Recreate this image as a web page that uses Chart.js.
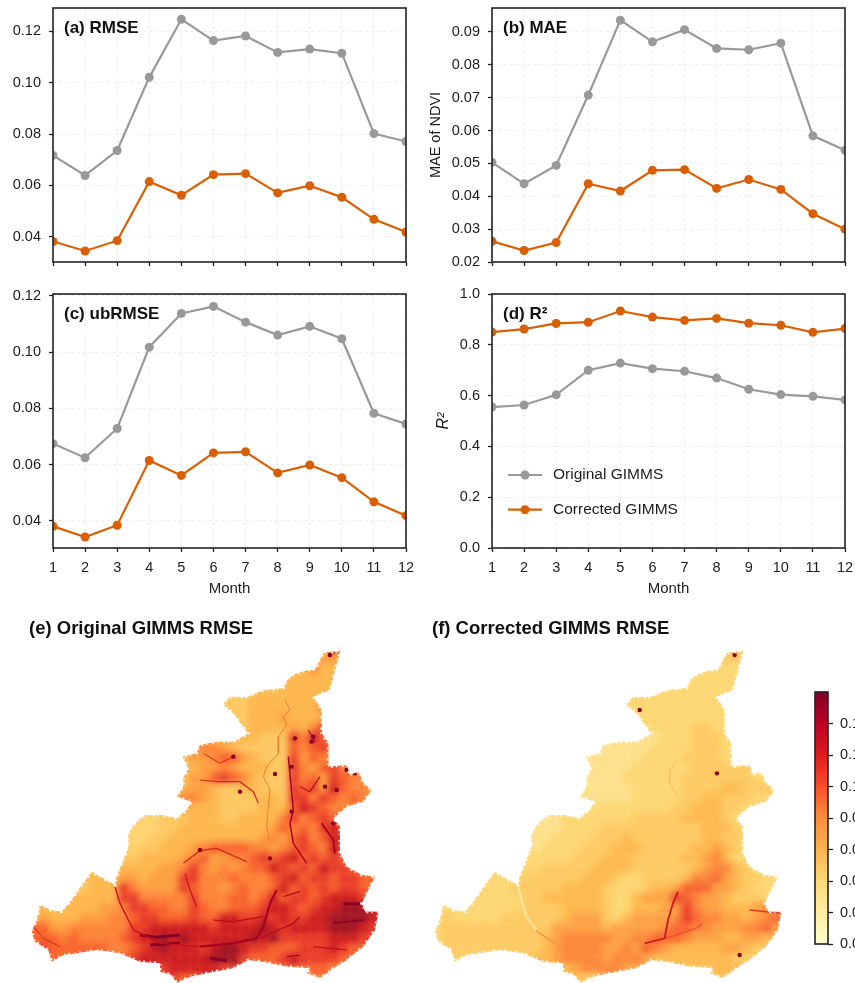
<!DOCTYPE html>
<html><head><meta charset="utf-8">
<style>
html,body{margin:0;padding:0;width:855px;height:983px;overflow:hidden;background:#fff}
canvas{position:absolute;display:block}
</style>
<script src="https://cdn.jsdelivr.net/npm/chart.js@4"></script>
</head><body>
<canvas id="pa" width="430" height="290" style="left:0;top:0;width:430px;height:290px"></canvas>
<canvas id="pb" width="428" height="290" style="left:427px;top:0;width:428px;height:290px"></canvas>
<canvas id="pc" width="430" height="320" style="left:0;top:286px;width:430px;height:320px"></canvas>
<canvas id="pd" width="428" height="320" style="left:427px;top:286px;width:428px;height:320px"></canvas>
<canvas id="me" width="410" height="373" style="left:0;top:610px;width:410px;height:373px"></canvas>
<canvas id="mf" width="410" height="373" style="left:403px;top:610px;width:410px;height:373px"></canvas>
<canvas id="cb" width="110" height="280" style="left:790px;top:680px;width:110px;height:280px"></canvas>
<script>
const months = ['1','2','3','4','5','6','7','8','9','10','11','12'];
const rmseOriginal = [.0717,.0639,.0736,.1021,.1247,.1164,.1182,.1118,.1131,.1115,.0802,.0771];
const rmseCorrected = [.0382,.0345,.0385,.0615,.0562,.0642,.0646,.0571,.0599,.0554,.0468,.0419];
const maeOriginal = [.0503,.0438,.0494,.0708,.0936,.0870,.0907,.0850,.0846,.0866,.0584,.0540];
const maeCorrected = [.0263,.0235,.0259,.0438,.0416,.0479,.0481,.0424,.0451,.0421,.0347,.0300];
const ubrmseOriginal = [.0675,.0625,.0729,.1018,.1138,.1163,.1107,.1061,.1092,.1048,.0783,.0745];
const ubrmseCorrected = [.0381,.0343,.0385,.0615,.0562,.0642,.0646,.0571,.0599,.0554,.0468,.0419];
const r2Original = [.555,.563,.603,.700,.728,.706,.696,.669,.625,.604,.597,.583];
const r2Corrected = [.850,.862,.884,.889,.933,.909,.896,.904,.885,.877,.849,.864];
const ticksA = [.04,.06,.08,.10,.12];
const ticksB = [.02,.03,.04,.05,.06,.07,.08,.09];
const ticksC = [.04,.06,.08,.10,.12];
const ticksD = [0,.2,.4,.6,.8,1];
const ticksBar = [0,.02,.04,.06,.08,.10,.12,.14];
const seriesNames = ['Original GIMMS','Corrected GIMMS'];
const panelTitles = ['(a) RMSE','(b) MAE','(c) ubRMSE','(d) R²'];
const mapTitles = ['(e) Original GIMMS RMSE','(f) Corrected GIMMS RMSE'];
const GRAY='#999999', ORANGE='#d95f02', INK='#1c1c1c';
const FF='"Liberation Sans", Arial, sans-serif';

/* study-area outline (map units) */
const outlineX = [1015,1022,990,970,945,925,890,865,850,790,740,690,668,700,725,745,720,700,650,600,590,548,565,550,550,530,575,560,530,485,435,405,385,385,370,350,345,300,275,245,215,185,150,120,110,95,105,145,155,190,230,290,360,420,480,480,515,530,570,640,700,745,790,860,930,920,960,1000,1040,1090,1125,1135,1095,1085,1105,1125,1085,1040,1020,1020,1000,1040,1090,1115,1090,1075,1050,1040,985,985,965,965,940,990,1000,1020,1015];
const outlineY = [105,125,125,130,180,180,190,205,235,240,262,260,285,310,345,370,385,395,395,405,430,440,475,505,530,560,575,600,625,615,615,640,670,710,750,800,825,800,785,825,870,905,900,882,930,965,995,1020,1055,1035,1030,1020,1030,1055,1060,1085,1095,1118,1100,1085,1075,1050,1055,1070,1075,1090,1105,1075,1050,1010,960,905,905,880,840,800,795,770,730,650,625,590,575,540,520,485,495,465,470,400,370,300,260,240,200,125,105];

/* RMSE class per 30-unit cell, one string per row, '.' = outside */
const rasterE = [
".............................394...",
"............................3443...",
"...........................35333...",
".........................333333....",
"........................233333.....",
"...................22233333334.....",
"....................2233333335.....",
".....................233343334.....",
".....................233334357.....",
".................3333332227586.....",
"...............4555432222265675....",
"...............34456643222746545...",
"...............3344543332275467576.",
"...............34467653222756476555",
"...............34432233222767486554",
"..............45543222233277576565.",
"...............43332222333687655...",
"...........11222333223333575676....",
"..........1112233333333346565786...",
"..........1122333333333454675687...",
"..........1223334566665545676587...",
".........22333345644556767867676...",
"......3.33333445754545668767687766.",
".....233344344477555655567867767766",
"....223337544447655456556867676776.",
"...2333337755555755566568677678887.",
".3333334457"+"7665576556"+"66788767889998",
".4333444556"+"7766676688"+"77878778899998",
"6644555555"+"7788888878"+"888987888899987",
"6665655556"+"7889898888"+"88989777778887"+".",
".7666666556"+"7898887899"+"877666777876"+"..",
"..6......"+"67888888899976667877776"+"...",
".............7888887........665....",
"..............766.................."
];
const rasterF = [
".............................141...",
"............................1221...",
"...........................11111...",
".........................111111....",
"........................111111.....",
"...................11111111111.....",
"....................1111111111.....",
".....................111111111.....",
".....................111112211.....",
".................0000001112221.....",
"...............0000000111122211....",
"...............00000011112222111...",
"...............0000011111122222211.",
"...............00001111112222222111",
"...............00000111112222332221",
"..............10000011111223322211.",
"...............11111111122333221...",
"...........00111111122222333321....",
"..........0001111222222222233321...",
"..........0011112223222222233221...",
"..........0111122233322222334321...",
".........11111222333222223345311...",
"......1.11122222333322222234553211.",
"....."+"1111222222"+"3332112222"+"3556432211",
"...."+"1111222223"+"3332111233"+"4666443211"+".",
"..."+"1111112233"+"3333211344"+"47654432221"+".",
"."+"1111111122"+"2233332113"+"33447544333454",
"."+"2111112222"+"2234442134"+"44457655443456",
"1222222222"+"2244444344"+"444566554445564",
"1222222222"+"2345555544"+"55666544433443"+".",
"."+"2222222222"+"3455554454"+"654333334432"+"..",
"..2......"+"23345555455543333333322"+"...",
".............3455554........333....",
"..............322.................."
];
const mapClasses = ['#fee391','#fed976','#fecb66','#feb850','#fd9f44','#fd823a','#f95d2d','#e8342a','#cc1420','#9c0a24'];

const streaksE = [
 {c:'#f07a34',w:1,x:[855,870,850,860,835,835,800,790,810,805,800,810],y:[270,300,320,345,380,430,470,500,540,590,650,700]},
 {c:'#d9261f',w:1.2,x:[600,650,720,760,775],y:[510,515,515,545,580]},
 {c:'#a8001f',w:2.2,x:[830,810,790,770,700,600],y:[840,880,950,985,1000,1010]},
 {c:'#c5101f',w:1.4,x:[600,480,400,360,345],y:[1010,1000,960,880,830]},
 {c:'#b50a20',w:1.4,x:[780,880,900],y:[985,940,920]},
 {c:'#870026',w:3,x:[1030,1085],y:[882,882]},
 {c:'#870026',w:3,x:[420,470,540],y:[975,982,975]},
 {c:'#870026',w:3,x:[450,540],y:[1005,1000]},
 {c:'#870026',w:3,x:[630,680],y:[1045,1052]},
 {c:'#a8001f',w:1.5,x:[865,880,870,880,920],y:[440,600,640,700,760]},
 {c:'#a8001f',w:1.8,x:[965,1000,1005],y:[640,690,730]},
 {c:'#d9261f',w:1.2,x:[550,600,650,740],y:[760,722,715,755]},
 {c:'#c5101f',w:1.2,x:[555,570,590],y:[790,840,890]},
 {c:'#b50a20',w:1.2,x:[900,930,960],y:[530,545,500]},
 {c:'#b50a20',w:1.2,x:[925,945],y:[360,395]},
 {c:'#b50a20',w:1.2,x:[850,900],y:[860,845]},
 {c:'#b50a20',w:1.2,x:[640,700,790],y:[930,935,920]},
 {c:'#870026',w:1.5,x:[1000,1090],y:[940,930]},
 {c:'#a8001f',w:1.2,x:[860,900],y:[1040,1035]},
 {c:'#b50a20',w:1.2,x:[940,1040],y:[1010,1020]},
 {c:'#d9261f',w:1,x:[100,130,180],y:[950,985,1010]},
 {c:'#d9261f',w:1,x:[610,660,700],y:[430,460,440]}
];
const streaksF = [
 {c:'#d3151f',w:1.8,x:[825,810,795,785,725],y:[845,880,930,985,1000]},
 {c:'#ef4b2b',w:1.2,x:[790,880,900],y:[985,955,940]},
 {c:'#e8362a',w:1.5,x:[1040,1090,1140],y:[900,905,910]},
 {c:'#fd8d3c',w:1.2,x:[905,930,950],y:[800,770,730]},
 {c:'#fd8d3c',w:1.2,x:[400,470,600],y:[962,1010,1050]},
 {c:'#fee8a0',w:2,x:[345,370,400],y:[830,920,960]},
 {c:'#fdbc58',w:1,x:[825,800,800,825],y:[450,480,520,560]}
];
const spotsX = [990,825,875,940,885,1000,1040,1065,935,975,1010,875,810,720,700,600];
const spotsY = [135,492,605,380,385,640,480,490,395,530,540,470,745,545,440,720];
const spotsFX = [942,1010,995,710];
const spotsFY = [490,1035,135,300];
const colorbarColors = ['#ffffcc','#ffeda0','#fed976','#feb24c','#fd8d3c','#fc4e2a','#e31a1c','#bd0026','#800026'];

Chart.defaults.font.family = FF;
Chart.defaults.color = INK;
Chart.defaults.animation = false;
Chart.defaults.responsive = false;

const framePlugin = {
  id:'frame',
  afterDatasetsDraw(ch,a,o){
    if(!o.on) return;
    const {left,top,width,height} = ch.chartArea, x = ch.ctx;
    x.save(); x.strokeStyle='#222'; x.lineWidth=1.6; x.strokeRect(left,top,width,height); x.restore();
  }
};
const tagPlugin = {
  id:'tag',
  afterDraw(ch,a,o){
    const x = ch.ctx, area = ch.chartArea;
    if(o.text){
      x.save(); x.font='bold 17px '+FF; x.fillStyle='#111'; x.textBaseline='middle';
      x.fillText(o.text, area.left+11, area.top+20); x.restore();
    }
    if(o.legend){
      x.save();
      ch.data.datasets.forEach((d,i)=>{
        const yy = area.top + 181 + i*34.7, x0 = area.left+16;
        x.strokeStyle=d.borderColor; x.lineWidth=2.2;
        x.beginPath(); x.moveTo(x0,yy); x.lineTo(x0+34,yy); x.stroke();
        x.fillStyle=d.borderColor; x.beginPath(); x.arc(x0+17,yy,4.5,0,7); x.fill();
        x.font='15.5px '+FF; x.fillStyle=INK; x.textBaseline='middle';
        x.fillText(d.label, x0+45, yy);
      });
      x.restore();
    }
  }
};
function tracePath(ch){
  const x = ch.ctx, sx = ch.scales.x, sy = ch.scales.y;
  x.beginPath();
  outlineX.forEach((v,i)=>{
    const px = sx.getPixelForValue(v), py = sy.getPixelForValue(outlineY[i]);
    i ? x.lineTo(px,py) : x.moveTo(px,py);
  });
  x.closePath();
}
const mapPlugin = {
  id:'mapClip',
  beforeDatasetsDraw(ch,a,o){
    if(!o.on) return;
    ch.ctx.save(); tracePath(ch); ch.ctx.clip();
  },
  afterDatasetsDraw(ch,a,o){ if(o.on) ch.ctx.restore(); },
  beforeDatasetDraw(ch,a,o){
    if(o.on && ch.data.datasets[a.index].soft) ch.ctx.filter='blur(3.6px)';
  },
  afterDatasetDraw(ch,a,o){
    if(o.on && ch.data.datasets[a.index].soft) ch.ctx.filter='none';
  }
};
Chart.register(framePlugin, tagPlugin, mapPlugin);

function line(label,data,color,order){
  return {label,data,borderColor:color,backgroundColor:color,borderWidth:2.2,pointRadius:4.5,pointBorderWidth:0,
    pointBackgroundColor:color,tension:0,clip:0,order};
}
function panel(id,cfg){
  new Chart(document.getElementById(id),{
    type:'line',
    data:{labels:months,datasets:[line(seriesNames[0],cfg.a,GRAY,1),line(seriesNames[1],cfg.b,ORANGE,0)]},
    options:{
      layout:{autoPadding:false,padding:{top:8,right:cfg.pr,bottom:cfg.pb||0,left:0}},
      plugins:{legend:{display:false},tooltip:{enabled:false},frame:{on:true},tag:{text:cfg.tag,legend:cfg.legend},mapClip:{on:false}},
      scales:{
        x:{offset:false,
           grid:{color:'#e9e9e9',lineWidth:.8,tickColor:'#222',tickWidth:1.3,tickLength:4,tickBorderDash:[]},
           border:{display:false,dash:[3,3]},
           ticks:{autoSkip:false,maxRotation:0,padding:7,font:{size:14.5},callback(v){return cfg.month?months[v]:'';}},
           title:{display:!!cfg.month,text:'Month',font:{size:15},padding:{top:0,bottom:0}},
           afterFit(s){s.height=cfg.xh;s.paddingLeft=0;s.paddingRight=0;}},
        y:{min:cfg.min,max:cfg.max,
           grid:{color:'#e9e9e9',lineWidth:.8,tickColor:'#222',tickWidth:1.3,tickLength:4,tickBorderDash:[]},
           border:{display:false,dash:[3,3]},
           ticks:{padding:8,font:{size:14.5},callback(v){return v.toFixed(cfg.dec);}},
           afterBuildTicks(s){s.ticks=cfg.ticks.map(v=>({value:v}));},
           title:{display:!!cfg.yt,text:cfg.yt||'',font:{size:cfg.yt==='R²'?16:14.5,style:cfg.yt==='R²'?'italic':'normal'},padding:{top:cfg.ytp||0,bottom:0}},
           afterFit(s){s.width=cfg.yw;s.paddingTop=0;s.paddingBottom=0;}}
      }
    }
  });
}
panel('pa',{a:rmseOriginal,b:rmseCorrected,ticks:ticksA,min:.0302,max:.1291,dec:2,tag:panelTitles[0],pr:24,xh:28,yw:53});
panel('pb',{a:maeOriginal,b:maeCorrected,ticks:ticksB,min:.02,max:.0973,dec:2,tag:panelTitles[1],pr:10,xh:28,yw:65,yt:'MAE of NDVI'});
panel('pc',{a:ubrmseOriginal,b:ubrmseCorrected,ticks:ticksC,min:.0304,max:.1207,dec:2,tag:panelTitles[2],pr:24,xh:50,pb:8,yw:53,month:true});
panel('pd',{a:r2Original,b:r2Corrected,ticks:ticksD,min:0,max:1,dec:1,tag:panelTitles[3],pr:10,xh:50,pb:8,yw:65,month:true,yt:'R²',ytp:7,legend:true});

function mapChart(id,title,raster,streaks,sx,sy,base){
  const pts=[], cols=[];
  raster.forEach((row,r)=>{
    for(let c=0;c<row.length;c++){
      const k=row[c];
      if(k>='0'&&k<='9'){ pts.push({x:90+30*c+15,y:105+30*r+15}); cols.push(mapClasses[+k]); }
    }
  });
  const outline = outlineX.map((v,i)=>({x:v,y:outlineY[i]}));
  const ds=[];
  ds.push({data:outline,showLine:true,fill:false,borderWidth:3,borderDash:[1,3,2,5],borderColor:'#ffffff',pointRadius:0,tension:0,order:-1});
  streaks.forEach((s,i)=>ds.push({data:s.x.map((v,j)=>({x:v,y:s.y[j]})),showLine:true,borderColor:s.c,borderWidth:s.w,
      pointRadius:0,tension:0,fill:false,order:1+i}));
  ds.push({data:sx.map((v,i)=>({x:v,y:sy[i]})),showLine:false,pointStyle:'circle',pointRadius:2.2,pointBorderWidth:0,
      pointBackgroundColor:'#8a0026',order:0});
  ds.push({data:pts,soft:true,showLine:false,pointStyle:'rect',pointRadius:9,pointBorderWidth:0,
      pointBackgroundColor:cols,order:50});
  ds.push({data:outline,showLine:true,fill:'shape',borderWidth:0,borderColor:base,
      backgroundColor:base,pointRadius:0,tension:0,order:60});
  new Chart(document.getElementById(id),{
    type:'scatter',data:{datasets:ds},
    options:{
      layout:{autoPadding:false,padding:{left:29,right:21,top:0,bottom:0}},
      plugins:{legend:{display:false},tooltip:{enabled:false},frame:{on:false},mapClip:{on:true},
        title:{display:true,text:title,align:'start',color:'#111',font:{size:18.5,weight:'bold'},padding:{top:8,bottom:5}}},
      scales:{x:{display:false,min:87,max:1167},y:{display:false,min:105.6,max:1119,reverse:true}}
    }
  });
}
mapChart('me',mapTitles[0],rasterE,streaksE,spotsX,spotsY,'#fdc25e');
mapChart('mf',mapTitles[1],rasterF,streaksF,spotsFX,spotsFY,'#fed97a');

new Chart(document.getElementById('cb'),{
  type:'bar',
  data:{labels:['RMSE'],datasets:[{data:[.16],barPercentage:1,categoryPercentage:1,
    backgroundColor(ctx){
      const a=ctx.chart.chartArea; if(!a) return colorbarColors[4];
      const g=ctx.chart.ctx.createLinearGradient(0,a.bottom,0,a.top);
      colorbarColors.forEach((c,i)=>g.addColorStop(i/(colorbarColors.length-1),c));
      return g;
    }}]},
  options:{
    layout:{autoPadding:false,padding:{left:25,right:0,top:12,bottom:16}},
    plugins:{legend:{display:false},tooltip:{enabled:false},frame:{on:true},mapClip:{on:false}},
    scales:{
      x:{display:false},
      y:{position:'right',min:0,max:.16,
         grid:{drawOnChartArea:false,tickColor:'#222',tickWidth:1.3,tickLength:5},
         border:{display:false},
         ticks:{padding:7,font:{size:14.5},callback(v){return v.toFixed(2);}},
         afterBuildTicks(s){s.ticks=ticksBar.map(v=>({value:v}));},
         afterFit(s){s.width=72;s.paddingTop=0;s.paddingBottom=0;}}
    }
  }
});
</script>
</body></html>
